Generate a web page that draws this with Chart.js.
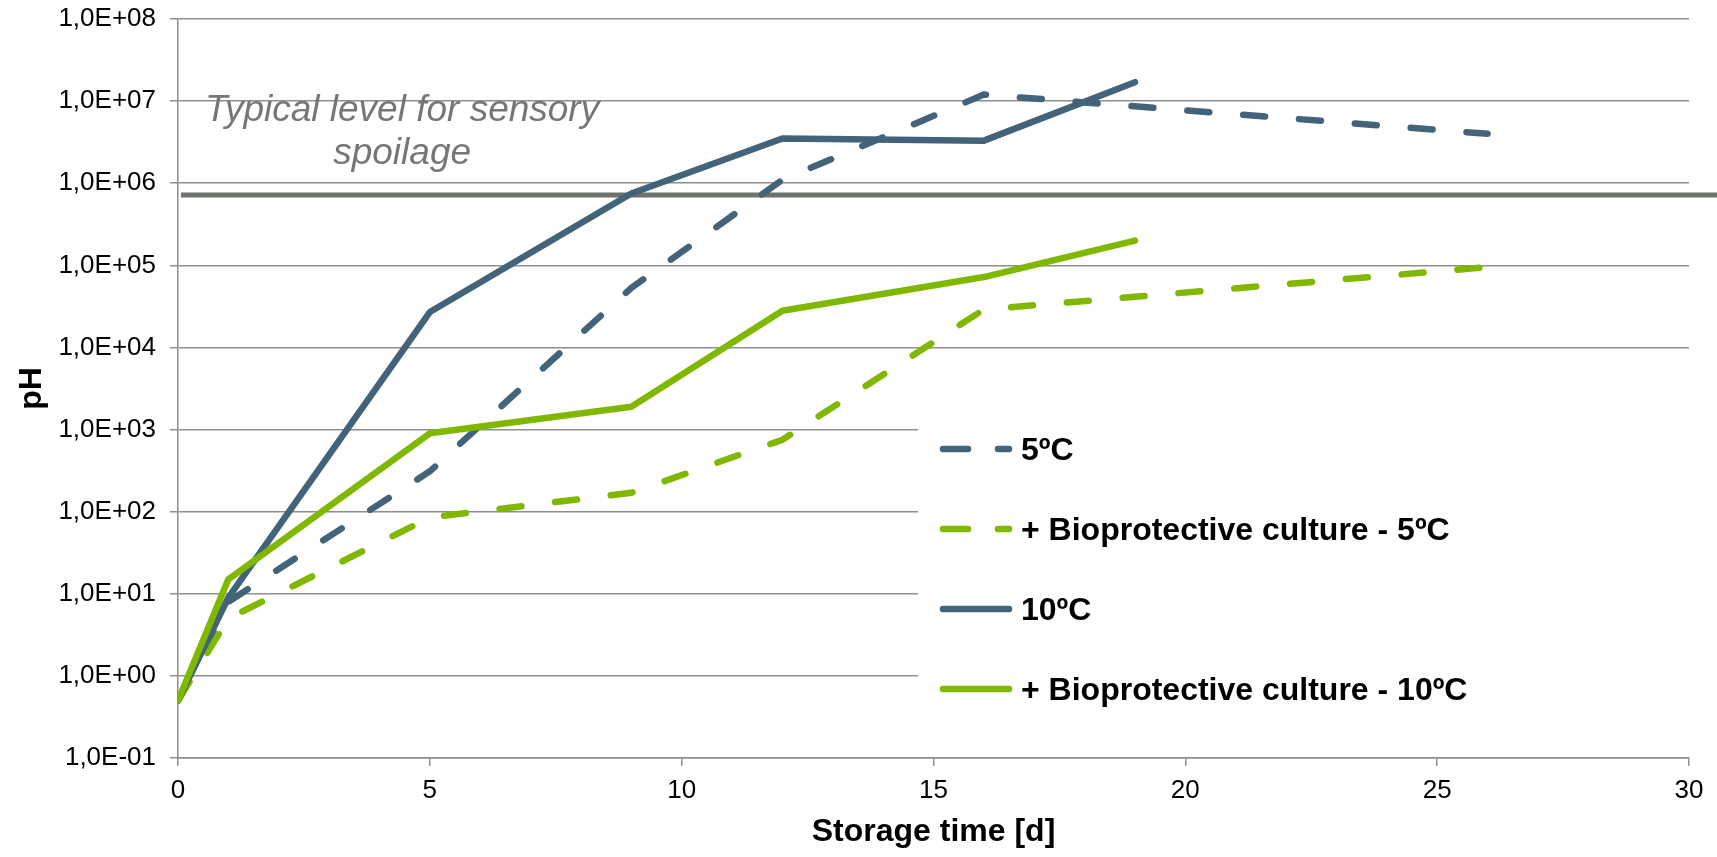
<!DOCTYPE html>
<html>
<head>
<meta charset="utf-8">
<script src="https://cdn.jsdelivr.net/npm/chart.js@4.4.1/dist/chart.umd.min.js"></script>
<style>
html,body{margin:0;padding:0;background:#fff;}
#wrap{width:1717px;height:857px;position:relative;}
</style>
</head>
<body>
<div id="wrap"><canvas id="c"></canvas></div>
<script>
// ---- data ----
const days5 = [0, 1, 5, 9, 12, 16, 26];
const days10 = [0, 1, 5, 9, 12, 16, 19];
const cfu5 = [0.5, 8, 310, 5.3e4, 1.1e6, 1.2e7, 4.0e6];
const cfuBio5 = [0.5, 5, 85, 170, 750, 2.9e4, 9.5e4];
const cfu10 = [0.5, 9, 2.7e4, 7.5e5, 3.5e6, 3.3e6, 1.7e7];
const cfuBio10 = [0.5, 15, 900, 1.9e3, 2.8e4, 7.2e4, 2.0e5];
const seriesLabels = ['5ºC', '+ Bioprotective culture - 5ºC', '10ºC', '+ Bioprotective culture - 10ºC'];
const yTickValues = [0.1, 1, 10, 100, 1e3, 1e4, 1e5, 1e6, 1e7, 1e8];
const yTickLabels = ['1,0E-01', '1,0E+00', '1,0E+01', '1,0E+02', '1,0E+03', '1,0E+04', '1,0E+05', '1,0E+06', '1,0E+07', '1,0E+08'];
const xTickValues = [0, 5, 10, 15, 20, 25, 30];
const spoilageLevel = 7.2e5;
const spoilageText = ['Typical level for sensory', 'spoilage'];
const spoilageTextDay = 4.45;
const xTitle = 'Storage time [d]';
const yTitle = 'pH';

// ---- styles ----
const FONT = "'Liberation Sans', Arial, sans-serif";
const BLUE = '#43637a';
const GREEN = '#80b800';
const GRID = '#8e8e8e';
const DASH = [22, 34];
const LEGEND_DASH = [25, 30];
const LINE_W = 6.5;

function pts(xs, ys) { return xs.map((x, i) => ({ x: x, y: ys[i] })); }

const datasets = [
  { label: seriesLabels[0], data: pts(days5, cfu5), borderColor: BLUE, borderDash: DASH, order: 4 },
  { label: seriesLabels[1], data: pts(days5, cfuBio5), borderColor: GREEN, borderDash: DASH, order: 3 },
  { label: seriesLabels[2], data: pts(days10, cfu10), borderColor: BLUE, borderDash: [], order: 2 },
  { label: seriesLabels[3], data: pts(days10, cfuBio10), borderColor: GREEN, borderDash: [], order: 1 }
].map(d => Object.assign({
  borderWidth: LINE_W, pointRadius: 0, pointHoverRadius: 0, fill: false, tension: 0,
  borderCapStyle: 'round', borderJoinStyle: 'round', backgroundColor: d.borderColor
}, d));

const decorPlugin = {
  id: 'decor',
  beforeDatasetsDraw(chart) {
    const ctx = chart.ctx, a = chart.chartArea;
    const y = chart.scales.y.getPixelForValue(spoilageLevel);
    ctx.save();
    // legend background
    ctx.fillStyle = '#ffffff';
    ctx.fillRect(a.left + 740, 414, a.right - (a.left + 740), 308);
    // spoilage threshold line
    ctx.strokeStyle = '#6e736e';
    ctx.lineWidth = 5;
    ctx.beginPath();
    ctx.moveTo(a.left + 3, y);
    ctx.lineTo(chart.width, y);
    ctx.stroke();
    ctx.restore();
  },
  afterDatasetsDraw(chart) {
    const ctx = chart.ctx, a = chart.chartArea;
    const y = chart.scales.y.getPixelForValue(spoilageLevel);
    const cx = chart.scales.x.getPixelForValue(spoilageTextDay);
    ctx.save();
    ctx.fillStyle = '#747874';
    ctx.font = 'italic 37px ' + FONT;
    ctx.textAlign = 'center';
    ctx.textBaseline = 'alphabetic';
    ctx.fillText(spoilageText[0], cx, y - 74);
    ctx.fillText(spoilageText[1], cx, y - 31);
    // legend
    const left = a.left + 765;
    const rowTop = 449;
    const rowGap = 80;
    chart.data.datasets.forEach((ds, i) => {
      const ry = rowTop + i * rowGap;
      ctx.strokeStyle = ds.borderColor;
      ctx.lineWidth = LINE_W;
      ctx.lineCap = 'round';
      ctx.setLineDash(ds.borderDash && ds.borderDash.length ? LEGEND_DASH : []);
      ctx.beginPath();
      ctx.moveTo(left, ry);
      ctx.lineTo(left + 66, ry);
      ctx.stroke();
      ctx.setLineDash([]);
      ctx.fillStyle = '#000';
      ctx.font = 'bold 32px ' + FONT;
      ctx.textAlign = 'left';
      ctx.textBaseline = 'middle';
      ctx.fillText(ds.label, left + 78, ry + 2);
    });
    ctx.restore();
  }
};

new Chart(document.getElementById('c'), {
  type: 'line',
  data: { datasets: datasets },
  options: {
    responsive: true,
    maintainAspectRatio: false,
    devicePixelRatio: 1,
    animation: false,
    layout: { padding: { top: 19, right: 28, left: 0, bottom: 0 } },
    plugins: { legend: { display: false }, tooltip: { enabled: false } },
    scales: {
      x: {
        type: 'linear', min: 0, max: 30,
        afterBuildTicks: s => { s.ticks = xTickValues.map(v => ({ value: v })); },
        afterFit: s => { s.height = 99; },
        ticks: { font: { size: 26, family: FONT }, color: '#000', padding: 9, maxRotation: 0, autoSkip: false },
        grid: { display: true, drawOnChartArea: false, drawTicks: true, tickLength: 8, color: GRID, lineWidth: 1.5 },
        border: { display: true, color: GRID, width: 1.5 },
        title: { display: true, text: xTitle, color: '#000', font: { size: 32, weight: 'bold', family: FONT }, padding: { top: 0, bottom: 6 } }
      },
      y: {
        type: 'logarithmic', min: 0.1, max: 1e8,
        afterBuildTicks: s => { s.ticks = yTickValues.map(v => ({ value: v })); },
        afterFit: s => { s.width = 178; s.paddingTop = 0; s.paddingBottom = 0; },
        ticks: {
          font: { size: 26, family: FONT }, color: '#000', padding: 14, autoSkip: false,
          callback: (v) => yTickLabels[yTickValues.indexOf(v)]
        },
        grid: { display: true, drawOnChartArea: true, drawTicks: true, tickLength: 8, color: GRID, lineWidth: 1.5 },
        border: { display: true, color: GRID, width: 1.5 },
        title: { display: true, text: yTitle, color: '#000', font: { size: 32, weight: 'bold', family: FONT }, padding: { top: 13, bottom: 0 } }
      }
    }
  },
  plugins: [decorPlugin]
});
</script>
</body>
</html>
